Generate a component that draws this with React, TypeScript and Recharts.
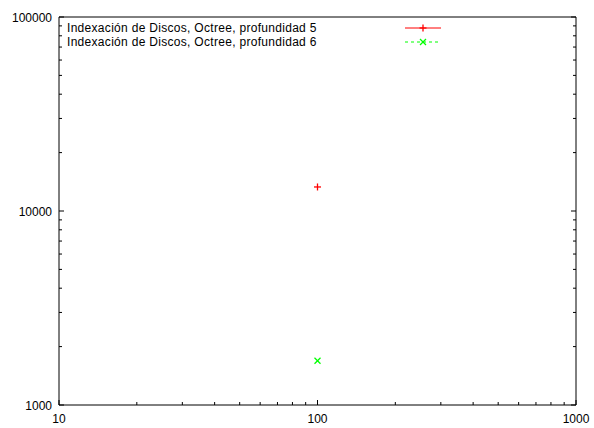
import React from "react";
import { ScatterChart, Scatter, XAxis, YAxis, Legend } from "recharts";

// x = 100 for both runs, y = time
const depth5X = [100];
const depth5Y = [13300];
const depth6X = [100];
const depth6Y = [1690];

const seriesNames = [
  "Indexación de Discos, Octree, profundidad 5",
  "Indexación de Discos, Octree, profundidad 6",
];

const xTicks = [10, 20, 30, 40, 50, 60, 70, 80, 90, 100, 200, 300, 400, 500, 600, 700, 800, 900, 1000];
const yTicks = [
  1000, 2000, 3000, 4000, 5000, 6000, 7000, 8000, 9000, 10000, 20000, 30000, 40000, 50000, 60000, 70000, 80000,
  90000, 100000,
];

const FONT = "'Liberation Sans', Arial, sans-serif";

const isMajor = (v: number) => Math.abs(Math.log10(v) - Math.round(Math.log10(v))) < 1e-9;

const LogTick = (props: any) => {
  const { x, y, payload, side } = props;
  const v = payload.value;
  const major = isMajor(v);
  const len = major ? 5 : 3;
  if (side === "bottom") {
    return (
      <g>
        <line x1={x} y1={y} x2={x} y2={y - len} stroke="#000" />
        {major && (
          <text x={x} y={y + 14} textAnchor="middle" dominantBaseline="central" fontSize={12} fontFamily={FONT} fill="#000">
            {v}
          </text>
        )}
      </g>
    );
  }
  if (side === "top") return <line x1={x} y1={y} x2={x} y2={y + len} stroke="#000" />;
  if (side === "left") {
    return (
      <g>
        <line x1={x} y1={y} x2={x + len} y2={y} stroke="#000" />
        {major && (
          <text x={x - 7} y={y + 1} textAnchor="end" dominantBaseline="central" fontSize={12} fontFamily={FONT} fill="#000">
            {v}
          </text>
        )}
      </g>
    );
  }
  return <line x1={x} y1={y} x2={x - len} y2={y} stroke="#000" />;
};

const Plus = (props: any) => {
  const { cx, cy } = props;
  return (
    <g stroke="#ff0000" strokeWidth={1.3}>
      <line x1={cx - 3.5} y1={cy} x2={cx + 3.5} y2={cy} />
      <line x1={cx} y1={cy - 3.5} x2={cx} y2={cy + 3.5} />
    </g>
  );
};

const Cross = (props: any) => {
  const { cx, cy } = props;
  return (
    <g stroke="#00ff00" strokeWidth={1.3}>
      <line x1={cx - 3} y1={cy - 3} x2={cx + 3} y2={cy + 3} />
      <line x1={cx - 3} y1={cy + 3} x2={cx + 3} y2={cy - 3} />
    </g>
  );
};

const KeyBox = () => (
  <svg width={594} height={50} style={{ display: "block" }}>
    <text x={67} y={28} dominantBaseline="central" fontSize={12} letterSpacing={0.3} fontFamily={FONT} fill="#000">
      {seriesNames[0]}
    </text>
    <line x1={405} y1={28} x2={441} y2={28} stroke="#ff0000" />
    <Plus cx={423} cy={28} />
    <text x={67} y={42} dominantBaseline="central" fontSize={12} letterSpacing={0.3} fontFamily={FONT} fill="#000">
      {seriesNames[1]}
    </text>
    <line x1={405} y1={42} x2={441} y2={42} stroke="#00ff00" strokeDasharray="3 3" />
    <Cross cx={423} cy={42} />
  </svg>
);

const axisCommon = {
  type: "number" as const,
  scale: "log" as const,
  interval: 0 as const,
  allowDataOverflow: true,
  tickSize: 0,
  tickMargin: 0,
  tickLine: false,
  axisLine: { stroke: "#000" },
};

export default function App() {
  const d5 = depth5X.map((x, i) => ({ x, y: depth5Y[i] }));
  const d6 = depth6X.map((x, i) => ({ x, y: depth6Y[i] }));
  return (
    <div style={{ position: "fixed", left: 0, top: 0, width: 594, height: 428, background: "#fff" }}>
      <ScatterChart width={594} height={428} margin={{ top: 16, right: 17, bottom: 22, left: 58 }}>
        <XAxis
          {...axisCommon}
          xAxisId="b"
          dataKey="x"
          domain={[10, 1000]}
          ticks={xTicks}
          height={1}
          tick={<LogTick side="bottom" />}
        />
        <XAxis
          {...axisCommon}
          xAxisId="t"
          orientation="top"
          domain={[10, 1000]}
          ticks={xTicks}
          height={1}
          tick={<LogTick side="top" />}
        />
        <YAxis
          {...axisCommon}
          yAxisId="l"
          dataKey="y"
          domain={[1000, 100000]}
          ticks={yTicks}
          width={1}
          tick={<LogTick side="left" />}
        />
        <YAxis
          {...axisCommon}
          yAxisId="r"
          orientation="right"
          domain={[1000, 100000]}
          ticks={yTicks}
          width={1}
          tick={<LogTick side="right" />}
        />
        <Legend
          layout="horizontal"
          verticalAlign="middle"
          wrapperStyle={{ left: 0, top: 0, width: 594, height: 50 }}
          content={() => <KeyBox />}
        />
        <Scatter
          name={seriesNames[0]}
          data={d5}
          xAxisId="b"
          yAxisId="l"
          shape={<Plus />}
          isAnimationActive={false}
        />
        <Scatter
          name={seriesNames[1]}
          data={d6}
          xAxisId="b"
          yAxisId="l"
          shape={<Cross />}
          isAnimationActive={false}
        />
      </ScatterChart>
    </div>
  );
}
